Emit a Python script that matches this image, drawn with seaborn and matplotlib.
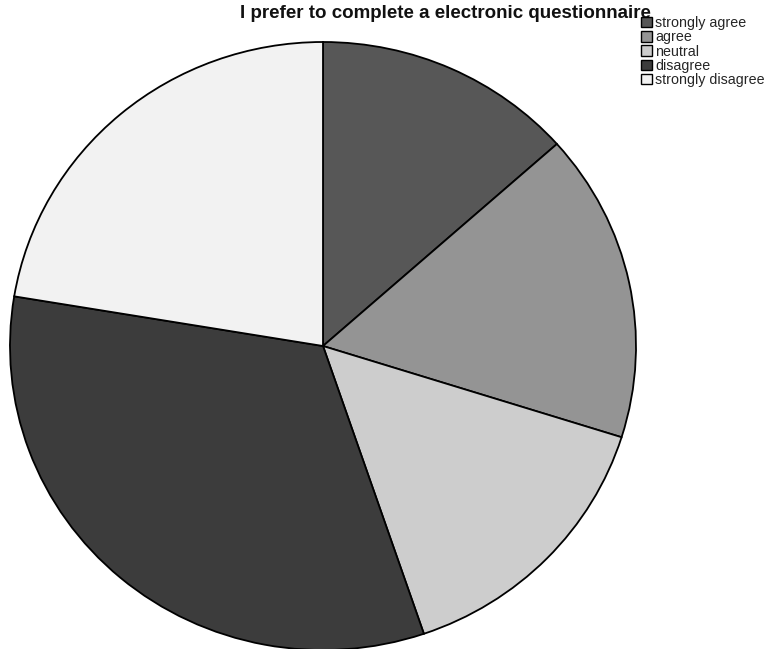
import matplotlib
matplotlib.use("Agg")
import matplotlib.pyplot as plt
import seaborn as sns

# Survey responses
categories = ["strongly agree", "agree", "neutral", "disagree", "strongly disagree"]
counts = [9, 11, 10, 22, 15]
shades = ["#575757", "#949494", "#cdcdcd", "#3c3c3c", "#f2f2f2"]
title = "I prefer to complete a electronic questionnaire"

sns.set_theme(style="white")
plt.rcParams["font.family"] = ["Liberation Sans", "DejaVu Sans"]

W, H = 777, 649
fig = plt.figure(figsize=(W / 100, H / 100), dpi=100)
fig.patch.set_facecolor("white")

cx, cy, rx, ry = 323, 346, 313, 304
ax = fig.add_axes([(cx - rx) / W, (H - cy - ry) / H, 2 * rx / W, 2 * ry / H])
palette = sns.color_palette(shades)
wedges, _ = ax.pie(
    counts,
    colors=palette,
    startangle=90,
    counterclock=False,
    radius=1.0,
    wedgeprops=dict(edgecolor="black", linewidth=1.3),
)
ax.set_aspect("auto")
ax.set_xlim(-1.0, 1.0)
ax.set_ylim(-1.0, 1.0)
ax.axis("off")

fig.text(445 / W, 1 - 13 / H, title, ha="center", va="center",
         fontsize=13.5, fontweight="bold", color="#111111")

leg = fig.legend(
    wedges, categories,
    loc="upper left",
    bbox_to_anchor=(641 / W, 1 - 16 / H),
    frameon=False,
    fontsize=10.3,
    handlelength=0.75,
    handleheight=0.75,
    handletextpad=0.25,
    labelspacing=0.02,
    borderaxespad=0,
    borderpad=0,
)
for h in leg.legend_handles:
    h.set_edgecolor("black")
    h.set_linewidth(1.0)

fig.savefig("out.png", dpi=100, facecolor="white")
